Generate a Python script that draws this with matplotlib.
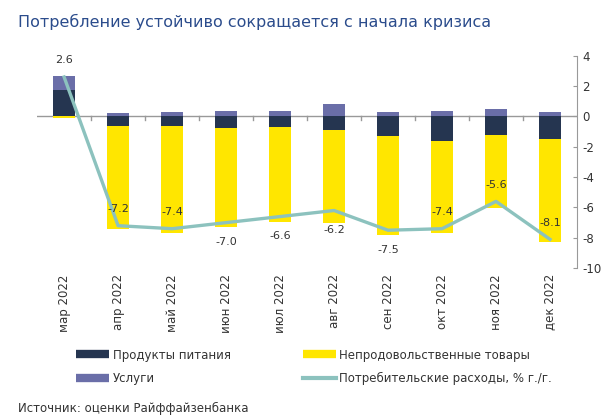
import numpy as np
import matplotlib.pyplot as plt
from matplotlib.lines import Line2D

plt.rcParams['font.family'] = ['DejaVu Sans']
plt.rcParams['axes.unicode_minus'] = False

months = ["мар 2022", "апр 2022", "май 2022", "июн 2022", "июл 2022",
          "авг 2022", "сен 2022", "окт 2022", "ноя 2022", "дек 2022"]
food = [1.75, -0.61, -0.66, -0.75, -0.68, -0.88, -1.32, -1.64, -1.25, -1.47]
nonfood = [-0.1, -6.8, -7.04, -6.54, -6.25, -6.14, -6.47, -6.03, -4.78, -6.82]
services = [0.94, 0.22, 0.28, 0.35, 0.37, 0.81, 0.26, 0.33, 0.46, 0.26]
spending = [2.6, -7.2, -7.4, -7.0, -6.6, -6.2, -7.5, -7.4, -5.6, -8.1]
label_above = [True, True, True, False, False, False, False, True, True, True]

c_food = "#253550"
c_nonfood = "#FFE600"
c_serv = "#6A6EA8"
c_line = "#8CC2BE"
c_text = "#333333"

fig = plt.figure(figsize=(6.08, 4.19), dpi=100)
ax = fig.add_axes([0.061, 0.36, 0.888, 0.507])

x = np.arange(len(months))
w = 0.4
pos = np.zeros(len(x))
neg = np.zeros(len(x))
for vals, col in [(food, c_food), (nonfood, c_nonfood), (services, c_serv)]:
    vals = np.array(vals)
    bottom = np.where(vals >= 0, pos, neg)
    ax.bar(x, vals, w, bottom=bottom, color=col, zorder=2)
    pos = pos + np.where(vals >= 0, vals, 0)
    neg = neg + np.where(vals < 0, vals, 0)

ax.plot(x, spending, color=c_line, lw=2.4, zorder=3)
for xi, v, up in zip(x, spending, label_above):
    off = 12 if up else -14
    ax.annotate(f"{v:.1f}", (xi, v), xytext=(0, off), textcoords="offset points",
                ha="center", va="center", fontsize=8, color=c_text, zorder=4)

ax.axhline(0, color="#999999", lw=1, zorder=1)
ax.set_xlim(-0.5, len(x) - 0.5)
ax.set_ylim(-10, 4)
ax.set_yticks(np.arange(-10, 5, 2))

ax.yaxis.tick_right()
for s in ["left", "top", "bottom"]:
    ax.spines[s].set_visible(False)
ax.spines["right"].set_color("#999999")
ax.tick_params(axis="y", direction="in", length=3, color="#999999",
               labelsize=8.5, labelcolor=c_text, pad=4)

ax.set_xticks(x)
ax.set_xticklabels([])
ax.tick_params(axis="x", length=0)
# category labels below the chart, rotated
for xi, m in zip(x, months):
    ax.text(xi, -10.4, m, rotation=90, ha="center", va="top",
            fontsize=8.5, color=c_text)
# small ticks on zero line between categories
for b in x[:-1] + 0.5:
    ax.plot([b, b], [0, -0.25], color="#999999", lw=1, zorder=1)

handles = [
    Line2D([], [], color=c_food, lw=6, solid_capstyle="butt"),
    Line2D([], [], color=c_serv, lw=6, solid_capstyle="butt"),
    Line2D([], [], color=c_nonfood, lw=6, solid_capstyle="butt"),
    Line2D([], [], color=c_line, lw=3),
]
labels = ["Продукты питания", "Услуги", "Непродовольственные товары",
          "Потребительские расходы, % г./г."]
fig.legend(handles, labels, ncol=2, loc="upper left", bbox_to_anchor=(0.125, 0.168),
           frameon=False, fontsize=8.5, handlelength=2.8, handletextpad=0.3,
           columnspacing=6.1, labelspacing=0.9, labelcolor=c_text,
           borderaxespad=0, borderpad=0)

fig.text(0.03, 0.947, "Потребление устойчиво сокращается с начала кризиса",
         fontsize=11.5, color="#2B4C8C", va="center")
fig.text(0.03, 0.026, "Источник: оценки Райффайзенбанка", fontsize=8.5,
         color=c_text, va="center")

fig.savefig("out.png", dpi=100)
